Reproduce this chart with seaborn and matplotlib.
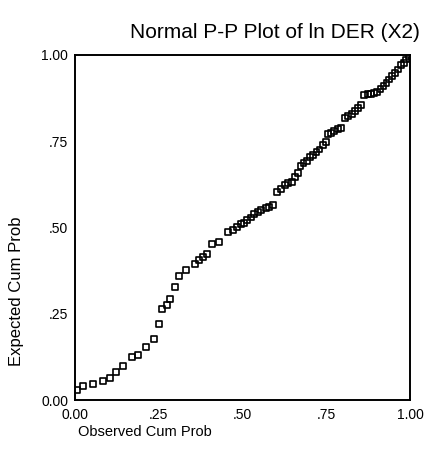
import matplotlib
matplotlib.use("Agg")
import matplotlib.pyplot as plt
import seaborn as sns
import pandas as pd

observed = [0.007, 0.025, 0.055, 0.084, 0.104, 0.122, 0.144, 0.170, 0.187, 0.212,
            0.236, 0.250, 0.261, 0.274, 0.284, 0.298, 0.310, 0.332, 0.358, 0.369,
            0.382, 0.393, 0.408, 0.429, 0.458, 0.472, 0.484, 0.496, 0.504, 0.513,
            0.525, 0.534, 0.545, 0.554, 0.569, 0.579, 0.590, 0.604, 0.615, 0.627,
            0.637, 0.648, 0.657, 0.667, 0.673, 0.682, 0.692, 0.701, 0.711, 0.721,
            0.730, 0.739, 0.748, 0.754, 0.763, 0.773, 0.784, 0.794, 0.806, 0.816,
            0.827, 0.837, 0.846, 0.855, 0.864, 0.874, 0.884, 0.893, 0.901, 0.912,
            0.921, 0.930, 0.937, 0.946, 0.955, 0.965, 0.973, 0.981, 0.988, 0.997]
expected = [0.028, 0.041, 0.047, 0.054, 0.065, 0.080, 0.098, 0.124, 0.130, 0.153,
            0.178, 0.219, 0.264, 0.275, 0.294, 0.327, 0.359, 0.377, 0.393, 0.406,
            0.415, 0.423, 0.452, 0.457, 0.488, 0.494, 0.501, 0.509, 0.514, 0.522,
            0.529, 0.538, 0.546, 0.551, 0.556, 0.560, 0.565, 0.604, 0.612, 0.623,
            0.628, 0.633, 0.647, 0.659, 0.677, 0.686, 0.694, 0.704, 0.710, 0.719,
            0.726, 0.739, 0.749, 0.771, 0.775, 0.781, 0.786, 0.788, 0.817, 0.822,
            0.828, 0.838, 0.846, 0.855, 0.884, 0.886, 0.888, 0.891, 0.894, 0.901,
            0.910, 0.919, 0.929, 0.938, 0.948, 0.958, 0.970, 0.978, 0.987, 0.997]
tick_values = [0.0, 0.25, 0.5, 0.75, 1.0]
tick_labels = ["0.00", ".25", ".50", ".75", "1.00"]

title = "Normal P-P Plot of ln DER (X2)"
xlabel = "Observed Cum Prob"
ylabel = "Expected Cum Prob"

sns.set_theme(style="white")
plt.rcParams["font.family"] = ["Liberation Sans", "DejaVu Sans"]

df = pd.DataFrame({"observed": observed, "expected": expected})

fig = plt.figure(figsize=(4.35, 4.73), dpi=100)
ax = fig.add_axes([75/435, 1-400/473, 335/435, 345/473])
sns.scatterplot(data=df, x="observed", y="expected", ax=ax, marker="s",
                s=18, facecolor="none", edgecolor="black", linewidth=1.2)

ax.set_xlim(0, 1)
ax.set_ylim(0, 1)
ax.set_xticks(tick_values)
ax.set_xticklabels(tick_labels, fontsize=10)
ax.set_yticks(tick_values)
ax.set_yticklabels(tick_labels, fontsize=10)
ax.tick_params(axis="both", direction="out", length=3, width=1, color="black",
               labelcolor="black", pad=2)
ax.tick_params(axis="x", pad=3)
for sp in ax.spines.values():
    sp.set_color("black")
    sp.set_linewidth(1.4)
ax.set_xlabel("")
ax.set_ylabel("")

fig.text(275/435, 1-33/473, title, ha="center", va="center", fontsize=15, color="black")
fig.text(78/435, 1-432/473, xlabel, ha="left", va="center", fontsize=10.5, color="black")
fig.text(17/435, 1-291/473, ylabel, ha="center", va="center", rotation=90,
         fontsize=12, color="black")

fig.savefig("out.png", dpi=100, facecolor="white")
